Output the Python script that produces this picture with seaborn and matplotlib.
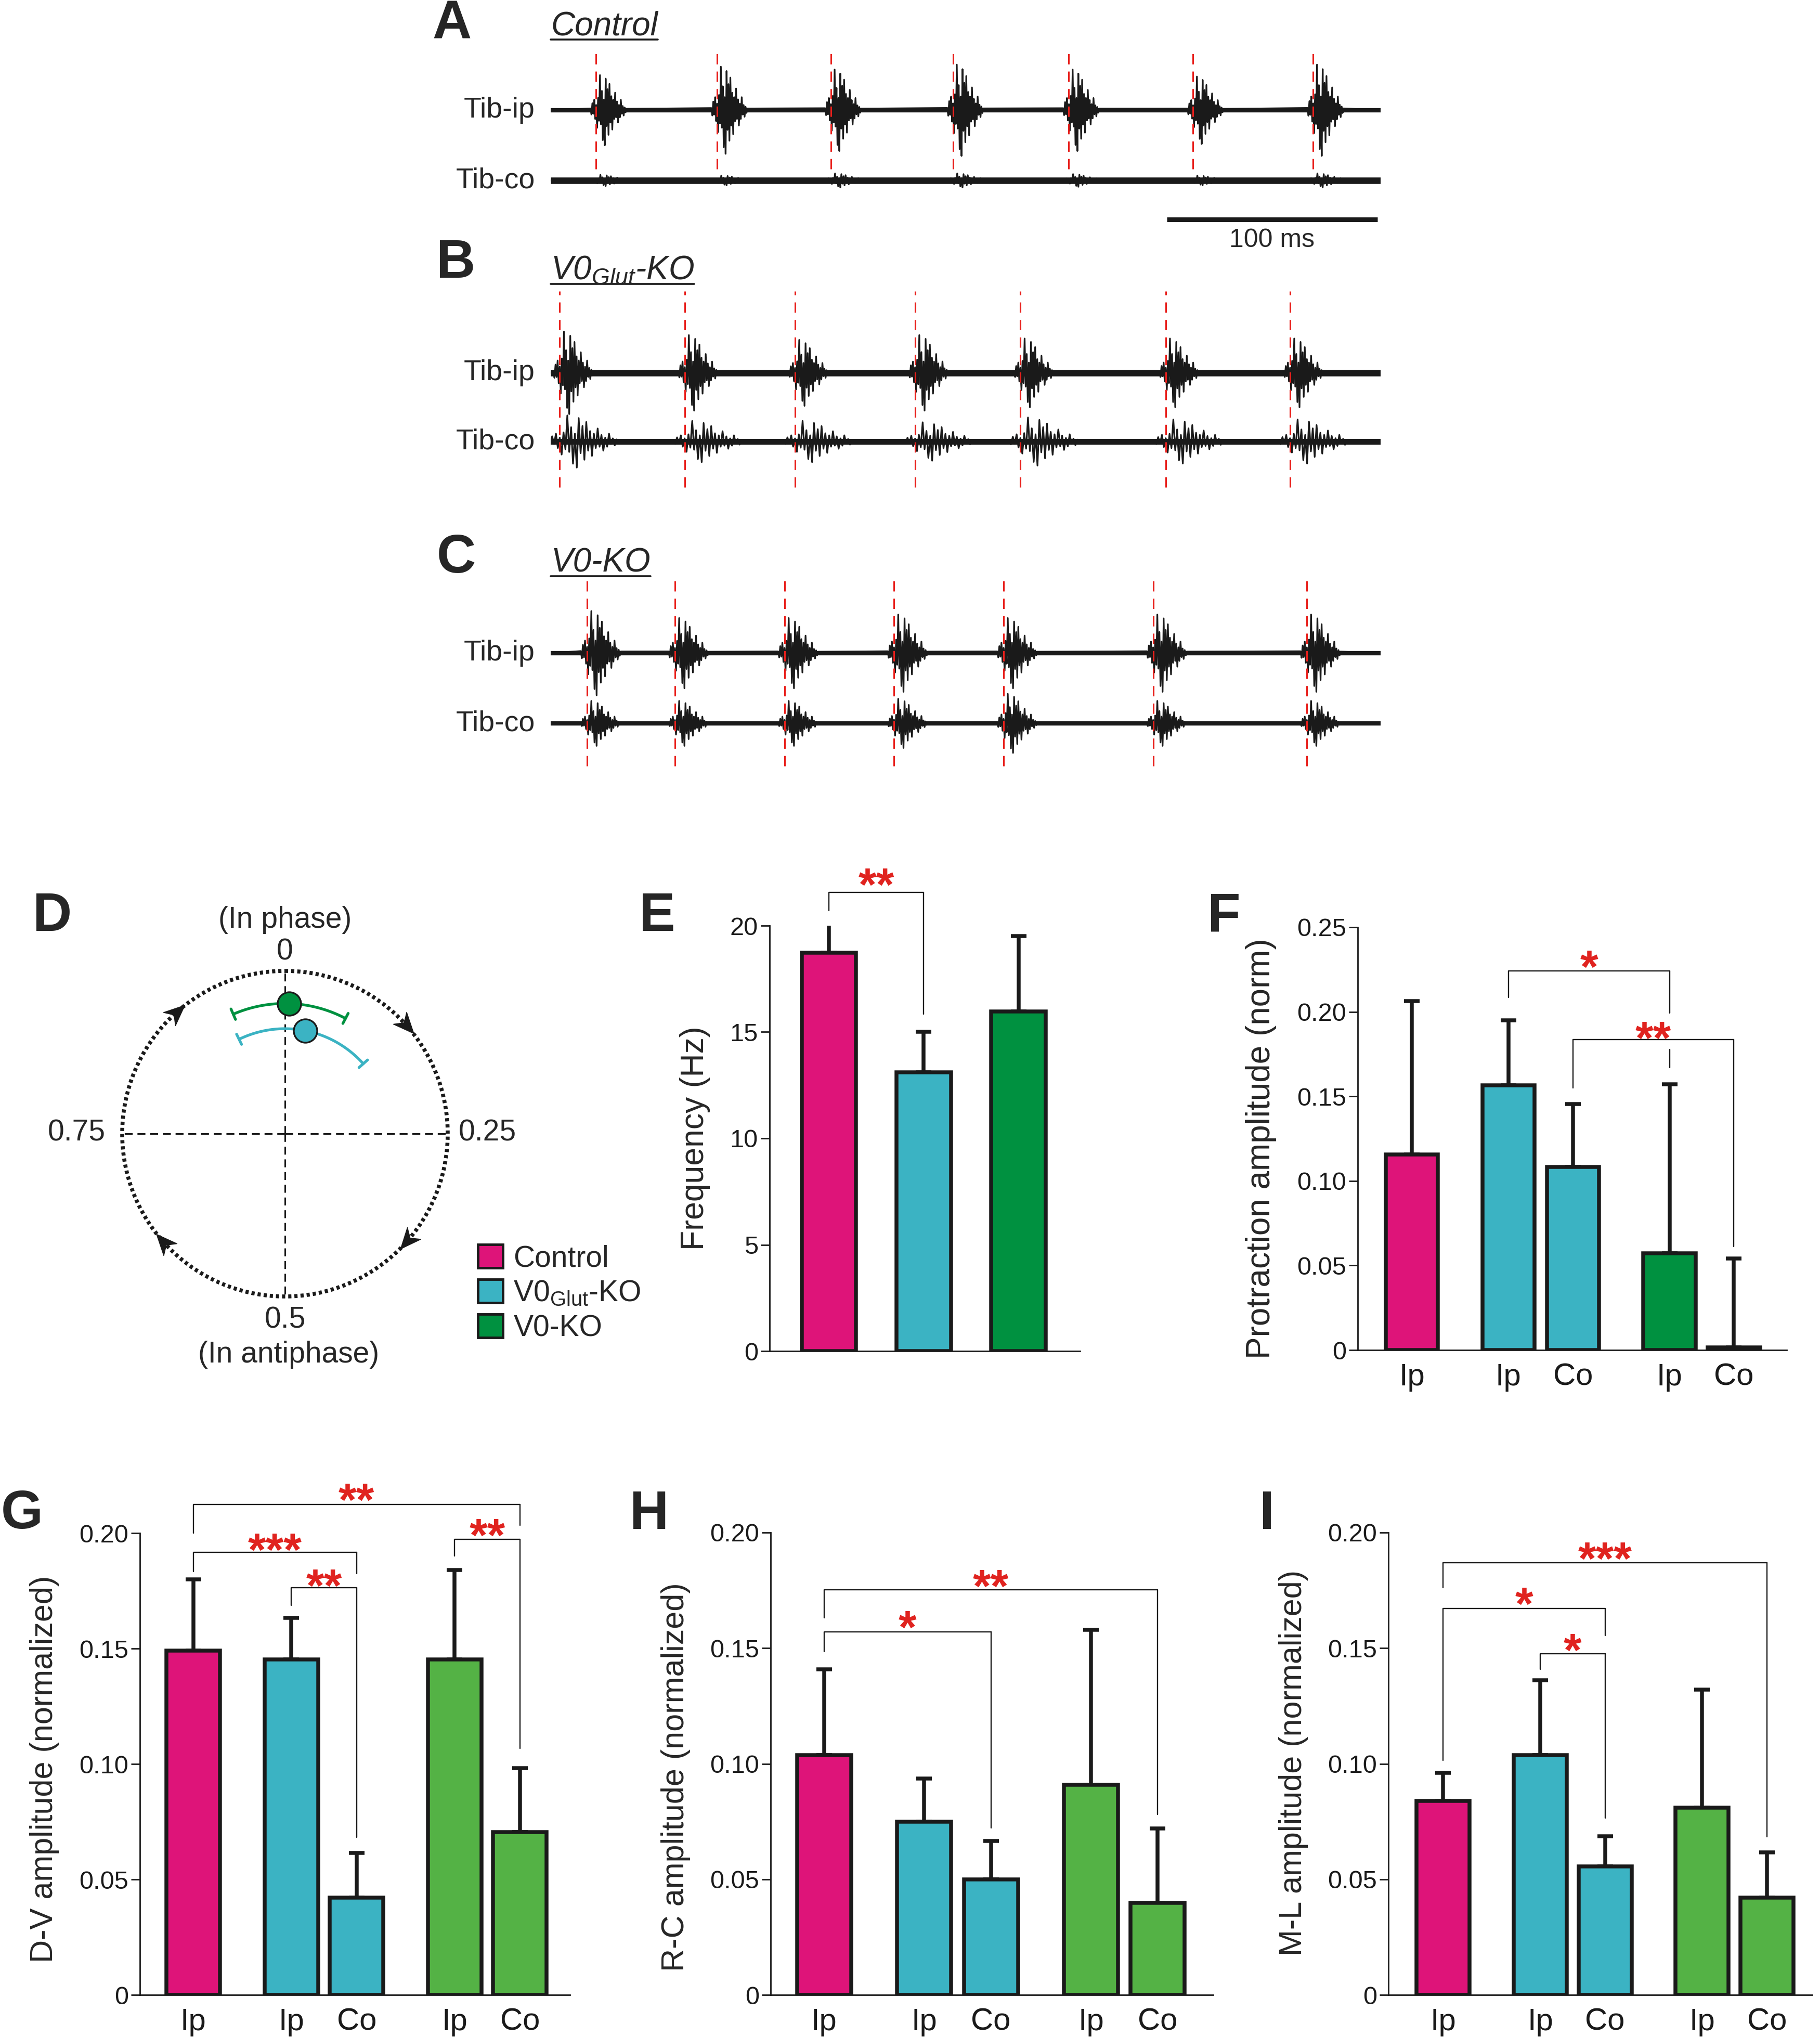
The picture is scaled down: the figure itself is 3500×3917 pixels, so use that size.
import numpy as np
import pandas as pd
import matplotlib
matplotlib.use("Agg")
import matplotlib.pyplot as plt
from matplotlib.patches import Patch
from matplotlib.path import Path
import seaborn as sns

# ---------------- data ----------------
# A-C: EMG traces (ms), burst onsets = red dashed lines
trace_len_ms = 394
onsets_A = [21.6, 79, 133, 191, 246, 305, 362]
onsets_B = [4.3, 63.6, 116, 173, 223, 292, 351]
onsets_C = [17.3, 59, 111, 163, 215, 286, 359]
gain_A_ip = [0.5, 0.62, 0.58, 0.65, 0.58, 0.48, 0.65]
gain_A_co = [0.08, 0.07, 0.1, 0.1, 0.09, 0.07, 0.1]
gain_B_ip = [0.6, 0.55, 0.48, 0.55, 0.5, 0.5, 0.5]
gain_B_co = [0.38, 0.3, 0.3, 0.28, 0.35, 0.32, 0.32]
gain_C_ip = [0.6, 0.5, 0.5, 0.55, 0.5, 0.55, 0.55]
gain_C_co = [0.32, 0.32, 0.32, 0.35, 0.42, 0.32, 0.32]
burst_t = [-3, -2.5, -2, -1.5, -1, -0.5, 0, 0.5, 1, 1.5, 2, 2.5, 3, 3.5, 4, 4.5, 5,
           5.5, 6, 6.5, 7, 7.5, 8, 8.5, 9, 9.5, 10, 10.5, 11, 11.5, 12, 12.5, 13,
           13.5, 14, 14.5, 15, 15.5, 16]
burst_v = [0.05, -0.12, 0.2, -0.1, 0.3, -0.25, 0.15, -0.5, 0.35, -0.3, 1.0, -0.4,
           0.55, -0.85, 0.3, -1.0, 0.9, -0.45, 0.6, -0.7, 0.75, -0.35, 0.4, -0.55,
           0.3, -0.25, 0.5, -0.2, 0.25, -0.35, 0.15, -0.2, 0.3, -0.1, 0.12, -0.15,
           0.08, -0.06, 0.04]

# D: phase (cycles) and coupling strength
phase_groups = ["V0-KO", "V0Glut-KO"]
phase_mean = [0.005, 0.031]
phase_lo = [-0.065, -0.072]
phase_hi = [0.077, 0.134]
phase_r = [0.80, 0.645]

# E: frequency
freq_groups = ["Control", "V0Glut-KO", "V0-KO"]
freq_mean = [18.72, 13.1, 15.96]
freq_sd = [1.38, 1.92, 3.54]

# F-I: Control Ip | V0Glut Ip, Co | V0 Ip, Co
bar_labels = ["Ip", "Ip", "Co", "Ip", "Co"]
prot_mean = [0.1156, 0.1564, 0.1082, 0.0572, 0.0016]
prot_sd = [0.0906, 0.0387, 0.0373, 0.0998, 0.0525]
dv_mean = [0.1492, 0.1453, 0.0422, 0.1453, 0.0706]
dv_sd = [0.0308, 0.018, 0.0192, 0.0388, 0.0276]
rc_mean = [0.1037, 0.075, 0.05, 0.0909, 0.0398]
rc_sd = [0.0371, 0.0185, 0.0165, 0.0671, 0.0321]
ml_mean = [0.0839, 0.1036, 0.0556, 0.0811, 0.042]
ml_sd = [0.0121, 0.0325, 0.0131, 0.0509, 0.0197]

# ---------------- style ----------------
PINK = "#de1479"
CYAN = "#3bb3c3"
DKGREEN = "#009140"
LTGREEN = "#54b245"
RED = "#e0231f"
EDGE = "#1a1a1a"

sns.set_style("ticks")
plt.rcParams["font.family"] = ["Liberation Sans", "DejaVu Sans"]
plt.rcParams["mathtext.fontset"] = "custom"
plt.rcParams["mathtext.rm"] = "Liberation Sans"
plt.rcParams["mathtext.it"] = "Liberation Sans:italic"
plt.rcParams["mathtext.bf"] = "Liberation Sans:bold"

W, H = 3500, 3917
fig = plt.figure(figsize=(W / 100, H / 100), dpi=100)


def px_rect(x0, y0, x1, y1):
    return [x0 / W, 1 - y1 / H, (x1 - x0) / W, (y1 - y0) / H]


ov = fig.add_axes([0, 0, 1, 1])
ov.set_xlim(0, W)
ov.set_ylim(H, 0)
ov.axis("off")

# ---------------- A-C traces ----------------
def emg_trace(onsets, gains, stretch):
    xs, ys = [0.0], [0.0]
    for on, g in zip(onsets, gains):
        xs += [on + t * stretch for t in burst_t]
        ys += [g * v for v in burst_v]
    xs.append(trace_len_ms)
    ys.append(0.0)
    return np.array(xs), np.array(ys)


trace_panels = [
    # onsets, ip gains, co gains, co baseline px, unit px, red span, stretch ip/co, band ip/co
    (onsets_A, gain_A_ip, gain_A_co, 347, 135, (0.16, 1.83), (0.9, 1.0), (6, 9)),
    (onsets_B, gain_B_ip, gain_B_co, 849, 132, (-0.67, 2.19), (1.0, 1.8), (9, 8)),
    (onsets_C, gain_C_ip, gain_C_co, 1391, 135, (-0.61, 2.03), (1.0, 1.0), (6, 6)),
]
for k, (ons, gip, gco, y0, unit, span, st, band) in enumerate(trace_panels):
    ax = fig.add_axes(px_rect(1059, y0 - 2.3 * unit, 2655, y0 + 0.8 * unit))
    ax.set_xlim(0, trace_len_ms)
    ax.set_ylim(-0.8, 2.3)
    ax.axis("off")
    for off, g, s, b in [(1, gip, st[0], band[0]), (0, gco, st[1], band[1])]:
        ax.plot([0, trace_len_ms], [off, off], color=EDGE, lw=b, solid_capstyle="butt")
        xs, ys = emg_trace(ons, g, s)
        ax.plot(xs, ys + off, color=EDGE, lw=2.3)
    ax.vlines(ons, span[0], span[1], colors="#e8201c", lw=2.2,
              linestyles=(0, (6.5, 4.5)), zorder=5)
    if k == 0:
        ax.plot([292.5, 392.5], [-0.556, -0.556], color=EDGE, lw=6.5,
                solid_capstyle="butt")

fig.canvas.draw()
for lab, (x, y) in zip("ABC", [(869, 47), (877, 507), (877, 1075)]):
    ov.text(x, y, lab, fontsize=75, fontweight="bold", ha="center", va="center")
for title, base in [("Control", 67), ("V0$_{Glut}$-KO", 537), ("V0-KO", 1099)]:
    t = ov.text(1059, base, title, fontsize=46, fontstyle="italic", ha="left",
                va="baseline")
    bb = t.get_window_extent(renderer=fig.canvas.get_renderer())
    ov.plot([1059, 1059 + bb.width], [base + 9, base + 9], color=EDGE, lw=2.6)
for y in [212, 347, 717, 849, 1256, 1391]:
    lab = "Tib-ip" if y in (212, 717, 1256) else "Tib-co"
    ov.text(1029, y, lab, fontsize=40, ha="right", va="center")
ov.text(2446, 462, "100 ms", fontsize=36, ha="center", va="center")

# ---------------- D polar ----------------
axd = fig.add_axes(px_rect(235, 1867, 861, 2493), projection="polar")
axd.set_theta_zero_location("N")
axd.set_theta_direction(-1)
axd.set_ylim(0, 1)
axd.grid(False)
axd.set_xticks([])
axd.set_yticks([])
axd.spines["polar"].set_visible(False)
axd.patch.set_alpha(0)
circ = np.linspace(0, 2 * np.pi, 400)
axd.plot(circ, np.ones_like(circ), color=EDGE, lw=5.5, ls=(0, (0.8, 0.75)),
         clip_on=False)
for th in [0, 0.5 * np.pi, np.pi, 1.5 * np.pi]:
    axd.plot([th, th], [0, 1], color=EDGE, lw=2.2, ls=(0, (5, 3)), clip_on=False)
chevron = np.array([[0, 1], [0.8, -0.85], [0, -0.3], [-0.8, -0.85], [0, 1]])
for deg in [48, 131, 228, 318]:
    phi = np.deg2rad(-deg - 90)
    rot = chevron @ np.array([[np.cos(phi), np.sin(phi)], [-np.sin(phi), np.cos(phi)]])
    axd.plot([np.deg2rad(deg)], [1], marker=Path(rot), ms=36, color=EDGE, mec=EDGE,
             clip_on=False, zorder=4)
for m, lo, hi, r, c in zip(phase_mean, phase_lo, phase_hi, phase_r, [DKGREEN, CYAN]):
    arc = np.linspace(lo, hi, 80) * 2 * np.pi
    axd.plot(arc, np.full_like(arc, r), color=c, lw=3.8)
    for e in (lo, hi):
        axd.plot([e * 2 * np.pi] * 2, [r - 0.035, r + 0.035], color=c, lw=3.8)
    axd.scatter([m * 2 * np.pi], [r], s=1050, color=c, edgecolor=EDGE, lw=2.4, zorder=5)

ov.text(101, 1764, "D", fontsize=75, fontweight="bold", ha="center", va="center")
for s, x, y in [("(In phase)", 548, 1769), ("0", 548, 1831), ("0.25", 937, 2179),
                ("0.75", 147, 2179), ("0.5", 548, 2538), ("(In antiphase)", 555, 2605)]:
    ov.text(x, y, s, fontsize=41, ha="center", va="center")
fig.legend(handles=[Patch(fc=c, ec=EDGE, lw=3.5) for c in [PINK, CYAN, DKGREEN]],
           labels=["Control", "V0$_{\\mathregular{Glut}}$-KO", "V0-KO"],
           loc="upper left", bbox_to_anchor=(919 / W, 1 - 2393 / H), frameon=False,
           fontsize=41, handlelength=0.85, handleheight=0.85, handletextpad=0.35,
           labelspacing=0.22, borderpad=0, borderaxespad=0)

# ---------------- E-I bars ----------------
STAR_FS = 64
LW = 5.4


def bracket(ax, pos, i, j, top, yl, yr, stars, ys, gap=None):
    x1, x2 = pos[i], pos[j]
    kw = dict(color=EDGE, lw=1.7, clip_on=False, zorder=4)
    ax.plot([x1, x1, x2], [yl, top, top], **kw)
    if gap is None:
        ax.plot([x2, x2], [top, yr], **kw)
    else:
        ax.plot([x2, x2], [top, gap[1]], **kw)
        ax.plot([x2, x2], [gap[0], yr], **kw)
    ax.annotate(stars, xy=((x1 + x2) / 2, ys), xytext=(0, -0.56 * STAR_FS),
                textcoords="offset points", ha="center", va="baseline", color=RED,
                fontsize=STAR_FS, fontweight="bold", annotation_clip=False)


def bar_panel(rect, pos, means, sds, colors, width, xlim, ylim, yticks, yticklabels,
              ylabel, ylab_x, ylab_y, ylab_fs, xticklabels, brackets):
    ax = fig.add_axes(px_rect(*rect))
    df = pd.DataFrame({"pos": pos, "val": means})
    sns.barplot(data=df, x="pos", y="val", native_scale=True, width=width,
                errorbar=None, color="white", edgecolor=EDGE, linewidth=LW,
                ax=ax, zorder=2)
    for p, c in zip(ax.patches, colors):
        p.set_facecolor(c)
    ax.errorbar(pos, means, yerr=[np.zeros(len(sds)), sds], fmt="none", ecolor=EDGE,
                elinewidth=LW, capsize=11, capthick=LW, zorder=1.5)
    ax.set_xlim(*xlim)
    ax.set_ylim(*ylim)
    ax.set_yticks(yticks)
    ax.set_yticklabels(yticklabels, fontsize=35)
    ax.set_xticks(pos if xticklabels else [])
    if xticklabels:
        ax.set_xticklabels(xticklabels, fontsize=43)
    ax.set_xlabel("")
    ax.set_ylabel(ylabel, fontsize=ylab_fs)
    ax.yaxis.set_label_coords((ylab_x - rect[0]) / (rect[2] - rect[0]), ylab_y)
    ax.yaxis.label.set_va("center")
    for s in ["top", "right"]:
        ax.spines[s].set_visible(False)
    for s in ["left", "bottom"]:
        ax.spines[s].set_linewidth(2.0)
        ax.spines[s].set_color(EDGE)
    ax.tick_params(axis="y", length=12, width=2.0, pad=4, colors=EDGE)
    ax.tick_params(axis="x", length=0, pad=18, colors=EDGE)
    ax.set_facecolor("none")
    for b in brackets:
        bracket(ax, pos, *b)
    return ax


bar_pos = [0, 1.5, 2.5, 4, 5]
tk02 = [0, 0.05, 0.10, 0.15, 0.20]
tl02 = ["0", "0.05", "0.10", "0.15", "0.20"]

bar_panel((1480, 1780, 2077, 2598), [0, 1, 2], freq_mean, freq_sd,
          [PINK, CYAN, DKGREEN], 0.575, (-0.625, 2.65), (0, 20),
          [0, 5, 10, 15, 20], ["0", "5", "10", "15", "20"], "Frequency (Hz)",
          1337, 0.5, 45, None,
          [(0, 1, 21.57, 20.7, 15.84, "**", 22.42)])
bar_panel((2611, 1783, 3436, 2596), bar_pos, prot_mean, prot_sd,
          [PINK, CYAN, CYAN, DKGREEN, DKGREEN], 0.81, (-0.84, 5.82), (0, 0.25),
          [0, 0.05, 0.10, 0.15, 0.20, 0.25],
          ["0", "0.05", "0.10", "0.15", "0.20", "0.25"],
          "Protraction amplitude (norm)", 2425, 0.476, 46, bar_labels,
          [(1, 3, 0.2243, 0.2084, 0.1669, "*", 0.2329, (0.1776, 0.1992)),
           (2, 4, 0.1835, 0.1549, 0.0613, "**", 0.1905)])
gcols = [PINK, CYAN, CYAN, LTGREEN, LTGREEN]
bar_panel((269, 2948, 1096, 3836), bar_pos, dv_mean, dv_sd, gcols, 0.82,
          (-0.818, 5.766), (0, 0.2), tk02, tl02, "D-V amplitude (normalized)",
          86, 0.489, 44, bar_labels,
          [(0, 4, 0.2124, 0.2, 0.2034, "**", 0.2189),
           (0, 2, 0.1917, 0.1833, 0.1824, "***", 0.1973),
           (1, 2, 0.1764, 0.1687, 0.0682, "**", 0.1817),
           (3, 4, 0.1974, 0.19, 0.1067, "**", 0.2037)])
bar_panel((1482, 2947, 2333, 3836), bar_pos, rc_mean, rc_sd, gcols, 0.81,
          (-0.8, 5.83), (0, 0.2), tk02, tl02, "R-C amplitude (normalized)",
          1300, 0.471, 44, bar_labels,
          [(0, 4, 0.1753, 0.1631, 0.078, "**", 0.1813),
           (0, 2, 0.1571, 0.1485, 0.0722, "*", 0.1635)])
bar_panel((2670, 2947, 3485, 3836), bar_pos, ml_mean, ml_sd, gcols, 0.82,
          (-0.846, 5.70), (0, 0.2), tk02, tl02, "M-L amplitude (normalized)",
          2488, 0.502, 44, bar_labels,
          [(0, 4, 0.1869, 0.1762, 0.0683, "***", 0.1933),
           (0, 2, 0.1672, 0.1014, 0.1554, "*", 0.1737),
           (1, 2, 0.1475, 0.1408, 0.0766, "*", 0.1536)])

for lab, (x, y) in zip("EFGHI", [(1264, 1764), (2354, 1764), (42, 2912),
                                 (1249, 2913), (2436, 2913)]):
    ov.text(x, y, lab, fontsize=75, fontweight="bold", ha="center", va="center")

fig.savefig("out.png", dpi=100)
